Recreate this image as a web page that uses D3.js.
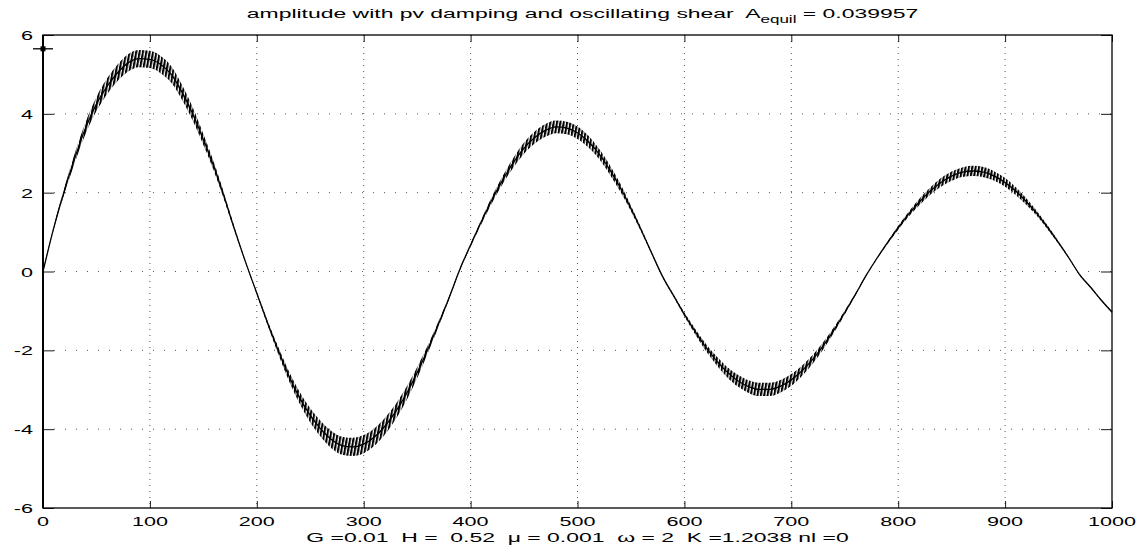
<!DOCTYPE html>
<html>
<head>
<meta charset="utf-8">
<script src="https://cdn.jsdelivr.net/npm/d3@7"></script>
<style>
  body { margin: 0; background: #fff; }
  svg text { font-family: "Liberation Sans", Arial, sans-serif; fill: #000; white-space: pre; }
</style>
</head>
<body>
<svg id="chart" width="1143" height="550"></svg>
<script>
// sample times (every 10 time units)
const times = d3.range(0, 1001, 10);

// centre of the amplitude curve
const amplitude = [
  0, 1.1, 2.05, 2.9, 3.65, 4.25, 4.7, 5.05, 5.3, 5.4,
  5.38, 5.25, 5.0, 4.55, 4.0, 3.35, 2.65, 1.85, 1.0, 0.2,
  -0.55, -1.3, -2.0, -2.65, -3.2, -3.65, -4.0, -4.27, -4.42, -4.45,
  -4.38, -4.2, -3.92, -3.55, -3.1, -2.57, -1.97, -1.33, -0.66,
  0.06, 0.67, 1.26, 1.82, 2.32, 2.76, 3.13, 3.4, 3.58, 3.67,
  3.64, 3.52, 3.3, 2.99, 2.59, 2.13, 1.6, 1.03, 0.43,
  -0.15, -0.62, -1.09, -1.52, -1.92, -2.26, -2.55, -2.77, -2.92, -2.99,
  -2.99, -2.91, -2.75, -2.52, -2.23, -1.88, -1.48, -1.04, -0.58, -0.1,
  0.33, 0.73, 1.11, 1.46, 1.77, 2.04, 2.26, 2.42, 2.52, 2.55,
  2.52, 2.42, 2.26, 2.04, 1.77, 1.46, 1.11, 0.73, 0.33,
  -0.09, -0.4, -0.73, -1.03
];

// half height of the fast shear wiggle around the centre
const wiggle = [
  0.02, 0.04, 0.08, 0.12, 0.15, 0.18, 0.2, 0.21, 0.22, 0.22,
  0.22, 0.22, 0.21, 0.19, 0.17, 0.14, 0.11, 0.08, 0.05, 0.02,
  0.03, 0.06, 0.09, 0.12, 0.15, 0.18, 0.2, 0.22, 0.23, 0.23,
  0.23, 0.22, 0.21, 0.19, 0.17, 0.14, 0.1, 0.07, 0.04,
  0.03, 0.04, 0.06, 0.08, 0.1, 0.12, 0.14, 0.15, 0.16, 0.16,
  0.16, 0.16, 0.15, 0.13, 0.12, 0.1, 0.07, 0.05, 0.03,
  0.02, 0.03, 0.05, 0.07, 0.09, 0.11, 0.13, 0.15, 0.16, 0.17,
  0.17, 0.16, 0.15, 0.13, 0.11, 0.09, 0.07, 0.05, 0.03, 0.02,
  0.02, 0.03, 0.05, 0.06, 0.08, 0.09, 0.11, 0.12, 0.12, 0.13,
  0.13, 0.12, 0.11, 0.1, 0.08, 0.06, 0.05, 0.03, 0.02,
  0.02, 0.02, 0.02, 0.02
];

const startMarker = [0, 5.65];

const xTicks = [0, 100, 200, 300, 400, 500, 600, 700, 800, 900, 1000];
const yTicks = [-6, -4, -2, 0, 2, 4, 6];

const titleMain = 'amplitude with pv damping and oscillating shear  A';
const titleSub = 'equil';
const titleTail = ' = 0.039957';
const xLabel = 'G =0.01  H =  0.52  \u03bc = 0.001  \u03c9 = 2  K =1.2038 nl =0';

const shearPeriod = Math.PI; // omega = 2

// --- layout ---
const svg = d3.select('#chart');
const margin = { top: 35, right: 31, bottom: 42, left: 43 };
const W = +svg.attr('width');
const H = +svg.attr('height');
const fontSize = 13.5;

const x = d3.scaleLinear().domain([0, 1000]).range([margin.left, W - margin.right]);
const y = d3.scaleLinear().domain([-6, 6]).range([H - margin.bottom, margin.top]);

const data = times.map((t, i) => ({ t, v: amplitude[i], w: wiggle[i] }));

// hatching that stands in for the fast oscillation
const defs = svg.append('defs');
const period = x(shearPeriod) - x(0);
const pat = defs.append('pattern')
  .attr('id', 'osc')
  .attr('patternUnits', 'userSpaceOnUse')
  .attr('width', period)
  .attr('height', 6)
  .attr('patternTransform', 'skewX(-10)');
pat.append('rect').attr('width', period).attr('height', 6).attr('fill', '#fff');
pat.append('rect').attr('x', 0).attr('width', 2.1).attr('height', 6).attr('fill', '#000');

// grid
const grid = svg.append('g');
grid.selectAll('line.gx')
  .data(xTicks.slice(1, -1))
  .join('line')
  .attr('x1', d => x(d)).attr('x2', d => x(d))
  .attr('y1', y(6)).attr('y2', y(-6))
  .attr('stroke', '#555').attr('stroke-width', 1)
  .attr('stroke-dasharray', '1,5');
grid.selectAll('line.gy')
  .data(yTicks.slice(1, -1))
  .join('line')
  .attr('x1', x(0)).attr('x2', x(1000))
  .attr('y1', d => y(d)).attr('y2', d => y(d))
  .attr('stroke', '#555').attr('stroke-width', 1)
  .attr('stroke-dasharray', '1,10');

// curve
const area = d3.area()
  .curve(d3.curveMonotoneX)
  .x(d => x(d.t))
  .y0(d => y(d.v - d.w))
  .y1(d => y(d.v + d.w));
const line = d3.line()
  .curve(d3.curveMonotoneX)
  .x(d => x(d.t))
  .y(d => y(d.v));

svg.append('path')
  .datum(data)
  .attr('fill', 'url(#osc)')
  .attr('d', area);
svg.append('path')
  .datum(data)
  .attr('fill', 'none')
  .attr('stroke', '#000')
  .attr('stroke-width', 1.3)
  .attr('d', line);

// start marker
const mx = x(startMarker[0]);
const my = y(startMarker[1]);
const mk = svg.append('g');
mk.append('line').attr('x1', mx - 10).attr('x2', mx + 10).attr('y1', my).attr('y2', my)
  .attr('stroke', '#000').attr('stroke-width', 1.3);
mk.append('line').attr('x1', mx).attr('x2', mx).attr('y1', my - 4).attr('y2', my + 4)
  .attr('stroke', '#000').attr('stroke-width', 1.3);
mk.append('rect').attr('x', mx - 2.5).attr('y', my - 2.5).attr('width', 5).attr('height', 5)
  .attr('fill', '#000');

// axes: ticks inside on all four sides
const tickStyle = g => {
  g.select('.domain').remove();
  g.selectAll('.tick line').attr('stroke', '#000').attr('stroke-width', 0.9);
};
svg.append('g')
  .attr('transform', `translate(0,${y(-6)})`)
  .call(d3.axisBottom(x).tickValues(xTicks).tickSizeInner(-7).tickSizeOuter(0).tickFormat(''))
  .call(tickStyle);
svg.append('g')
  .attr('transform', `translate(0,${y(6)})`)
  .call(d3.axisTop(x).tickValues(xTicks).tickSizeInner(-7).tickSizeOuter(0).tickFormat(''))
  .call(tickStyle);
svg.append('g')
  .attr('transform', `translate(${x(0)},0)`)
  .call(d3.axisLeft(y).tickValues(yTicks).tickSizeInner(-11).tickSizeOuter(0).tickFormat(''))
  .call(tickStyle);
svg.append('g')
  .attr('transform', `translate(${x(1000)},0)`)
  .call(d3.axisRight(y).tickValues(yTicks).tickSizeInner(-11).tickSizeOuter(0).tickFormat(''))
  .call(tickStyle);

// box
svg.append('rect')
  .attr('x', x(0)).attr('y', y(6))
  .attr('width', x(1000) - x(0)).attr('height', y(-6) - y(6))
  .attr('fill', 'none').attr('stroke', '#000').attr('stroke-width', 1.3);
svg.append('line')
  .attr('x1', x(0)).attr('x2', x(0)).attr('y1', y(6)).attr('y2', y(-6))
  .attr('stroke', '#000').attr('stroke-width', 2);

// wide text helper (the picture's lettering is stretched sideways)
const wideText = (px, py, anchor, sx) => svg.append('text')
  .attr('transform', `translate(${px},${py}) scale(${sx},1)`)
  .attr('text-anchor', anchor)
  .attr('font-size', fontSize);

xTicks.forEach(d => wideText(x(d), y(-6) + 18, 'middle', 1.6).text(d));
yTicks.forEach(d => wideText(x(0) - 10, y(d) + 5, 'end', 1.6).text(String(d)));

const title = wideText((x(0) + x(1000)) / 2 + 5, 18, 'middle', 1.7);
title.append('tspan').text(titleMain);
title.append('tspan').attr('font-size', 10).attr('dy', 5).text(titleSub);
title.append('tspan').attr('dy', -5).text(titleTail);

wideText((x(0) + x(1000)) / 2, H - 8, 'middle', 1.7).text(xLabel);
</script>
</body>
</html>
